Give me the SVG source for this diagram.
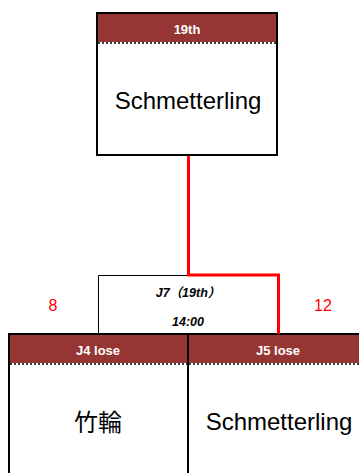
<svg xmlns="http://www.w3.org/2000/svg" width="359" height="473" viewBox="0 0 359 473">
<style>
.hdr{fill:#963634}
.box{fill:#fff;stroke:#000;stroke-width:2}
.dot{stroke:#000;stroke-width:1.5;stroke-dasharray:2 2}
.ht{font-family:"Liberation Sans",Arial,sans-serif;font-weight:bold;font-size:13px;fill:#fff;text-anchor:middle}
.nm{font-family:"Liberation Sans","Noto Sans CJK JP",sans-serif;font-size:24px;fill:#000;text-anchor:middle}
.mt{font-family:"Liberation Sans","Noto Sans CJK JP",sans-serif;font-weight:bold;font-style:italic;font-size:12.5px;fill:#000;text-anchor:middle}
.sc{font-family:"Liberation Sans",Arial,sans-serif;font-size:16px;fill:#f00;text-anchor:middle}
.red{fill:none;stroke:#f00;stroke-width:3}
</style>
<g id="node-top">
<rect class="box" x="97" y="13" width="180" height="142"/>
<rect class="hdr" x="98" y="14" width="178" height="28"/>
<line class="dot" x1="98" y1="43" x2="276" y2="43"/>
<text class="ht" x="187" y="34">19th</text>
<text class="nm" x="188" y="109">Schmetterling</text>
</g>
<g id="node-match">
<path d="M98.5,333 V275.5 H278" fill="none" stroke="#000" stroke-width="1"/>
<text class="mt" x="188" y="297">J7（19th）</text>
<text class="mt" x="188" y="326">14:00</text>
</g>
<g id="node-left">
<path d="M9,473 V334 H188 V473" fill="#fff" stroke="#000" stroke-width="2"/>
<rect class="hdr" x="10" y="335" width="177" height="28"/>
<line class="dot" x1="10" y1="364" x2="187" y2="364"/>
<text class="ht" x="98" y="355">J4 lose</text>
<text class="nm" x="98" y="431">竹輪</text>
<text class="sc" x="53" y="311">8</text>
</g>
<g id="node-right">
<path d="M188,473 V334 H362" fill="#fff" stroke="#000" stroke-width="2"/>
<rect class="hdr" x="189" y="335" width="172" height="28"/>
<line class="dot" x1="189" y1="364" x2="359" y2="364"/>
<text class="ht" x="278" y="355">J5 lose</text>
<text class="nm" x="279" y="430">Schmetterling</text>
<text class="sc" x="323" y="311">12</text>
</g>
<g id="connectors">
<path class="red" d="M188.5,156 V275 H278.5 V334"/>
</g>
</svg>
